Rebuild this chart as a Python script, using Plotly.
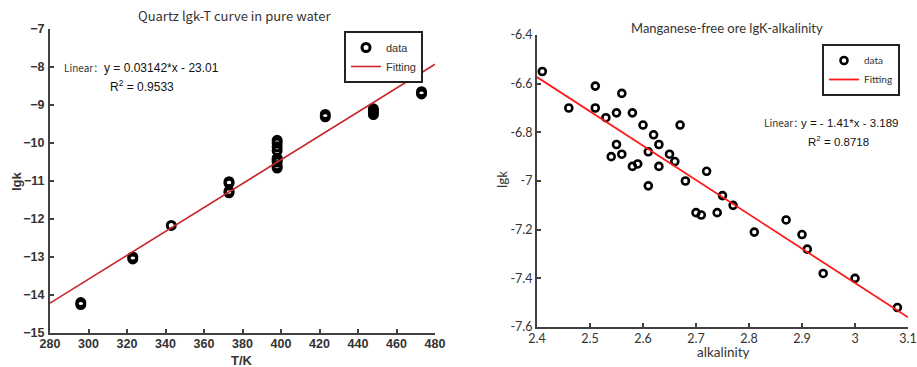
import plotly.graph_objects as go

# ---------------- data ----------------
# Left: Quartz lgk-T in pure water
t_k = [296, 296, 323, 323, 343, 373, 373, 373, 373,
       398, 398, 398, 398, 398, 398, 398, 398, 398,
       423, 423, 448, 448, 448, 448, 473, 473]
lgk_t = [-14.20, -14.25, -13.00, -13.05, -12.17, -11.02, -11.06, -11.27, -11.31,
         -9.93, -10.00, -10.10, -10.20, -10.40, -10.45, -10.50, -10.60, -10.66,
         -9.25, -9.31, -9.10, -9.15, -9.20, -9.25, -8.65, -8.71]
fit_left_slope = 0.03142
fit_left_intercept = -23.01
fit_left_x = [280, 480]

# Right: Manganese-free ore lgK-alkalinity
alk = [2.41, 2.46, 2.51, 2.51, 2.53, 2.55, 2.56, 2.58, 2.60, 2.62, 2.63, 2.55,
       2.54, 2.56, 2.61, 2.58, 2.59, 2.63, 2.65, 2.66, 2.67, 2.72, 2.68, 2.61,
       2.70, 2.71, 2.74, 2.75, 2.77, 2.81, 2.87, 2.90, 2.91, 2.94, 3.00, 3.08]
lgk_a = [-6.55, -6.70, -6.61, -6.70, -6.74, -6.72, -6.64, -6.72, -6.77, -6.81, -6.85, -6.85,
         -6.90, -6.89, -6.88, -6.94, -6.93, -6.94, -6.89, -6.92, -6.77, -6.96, -7.00, -7.02,
         -7.13, -7.14, -7.13, -7.06, -7.10, -7.21, -7.16, -7.22, -7.28, -7.38, -7.40, -7.52]
fit_right_slope = -1.41
fit_right_intercept = -3.189
fit_right_x = [2.4, 3.1]

left_xticks = [280, 300, 320, 340, 360, 380, 400, 420, 440, 460, 480]
left_yticks = [-15, -14, -13, -12, -11, -10, -9, -8, -7]
right_xticks = [2.4, 2.5, 2.6, 2.7, 2.8, 2.9, 3.0, 3.1]
right_xticklabels = ["2.4", "2.5", "2.6", "2.7", "2.8", "2.9", "3", "3.1"]
right_yticks = [-7.6, -7.4, -7.2, -7.0, -6.8, -6.6, -6.4]
right_yticklabels = ["-7.6", "-7.4", "-7.2", "-7", "-6.8", "-6.6", "-6.4"]

W, H = 917, 367
AX = "#404040"
FONT_L = "Liberation Sans"
FONT_R = "Lato"

def px_x(p):
    return p / W

def px_y(p):
    return 1 - p / H

fig = go.Figure()

fig.add_trace(go.Scatter(
    x=t_k, y=lgk_t, mode="markers", name="data",
    marker=dict(symbol="circle-open", size=8, color="black", line=dict(width=3, color="black")),
    xaxis="x", yaxis="y", legend="legend"))
fig.add_trace(go.Scatter(
    x=fit_left_x, y=[fit_left_slope * v + fit_left_intercept for v in fit_left_x],
    mode="lines", name="Fitting", line=dict(color="#c8282b", width=1.6),
    xaxis="x", yaxis="y", legend="legend"))

fig.add_trace(go.Scatter(
    x=alk, y=lgk_a, mode="markers", name="data",
    marker=dict(symbol="circle-open", size=7, color="black", line=dict(width=2.6, color="black")),
    xaxis="x2", yaxis="y2", legend="legend2"))
fig.add_trace(go.Scatter(
    x=fit_right_x, y=[fit_right_slope * v + fit_right_intercept for v in fit_right_x],
    mode="lines", name="Fitting", line=dict(color="#ff1a1a", width=1.8),
    xaxis="x2", yaxis="y2", legend="legend2"))

common_axis = dict(showline=True, linecolor=AX, linewidth=2, mirror=False,
                   ticks="inside", ticklen=4, tickcolor=AX, tickwidth=1.5,
                   showgrid=False, zeroline=False, automargin=False)

fig.update_layout(
    width=W, height=H, autosize=False,
    margin=dict(l=0, r=0, t=0, b=0),
    paper_bgcolor="white", plot_bgcolor="white",
    xaxis=dict(domain=[px_x(50), px_x(435)], range=[280, 480], anchor="y",
               tickvals=left_xticks, ticklabelstandoff=-2,
               tickfont=dict(family=FONT_L, size=12.5, color="#333333", weight="bold"),
               **common_axis),
    yaxis=dict(domain=[px_y(333), px_y(29)], range=[-15, -7], anchor="x",
               tickvals=left_yticks, ticklabelstandoff=1,
               tickfont=dict(family=FONT_L, size=12.5, color="#333333", weight="bold"),
               **common_axis),
    xaxis2=dict(domain=[px_x(537), px_x(908)], range=[2.4, 3.1], anchor="y2",
                tickvals=right_xticks, ticktext=right_xticklabels, ticklabelstandoff=-1,
                tickfont=dict(family=FONT_R, size=12.5, color="#333333"),
                **common_axis),
    yaxis2=dict(domain=[px_y(327), px_y(35)], range=[-7.6, -6.4], anchor="x2",
                tickvals=right_yticks, ticktext=right_yticklabels,
                tickfont=dict(family=FONT_R, size=12.5, color="#333333"),
                **common_axis),
    legend=dict(x=px_x(423), y=px_y(31), xanchor="right", yanchor="top",
                bgcolor="white", bordercolor="#222222", borderwidth=2,
                font=dict(family=FONT_L, size=11, color="#333333"),
                itemwidth=30, tracegroupgap=0),
    legend2=dict(x=px_x(900), y=px_y(44), xanchor="right", yanchor="top",
                 bgcolor="white", bordercolor="#222222", borderwidth=2,
                 font=dict(family=FONT_R, size=10, color="#333333"),
                 itemwidth=30, tracegroupgap=0),
    showlegend=True,
)

ann = []
def A(text, x, y, size, family, color="#222222", xanchor="center", bold=False, angle=0):
    ann.append(dict(text=("<b>%s</b>" % text) if bold else text, x=px_x(x), y=px_y(y),
                    xref="paper", yref="paper", showarrow=False, xanchor=xanchor, yanchor="middle",
                    textangle=angle, font=dict(family=family, size=size, color=color)))

# titles
A("Quartz lgk-T curve in pure water", 235, 15, 13, "Noto Sans CJK SC", color="#333333")
A("Manganese-free ore lgK-alkalinity", 727, 28, 13, FONT_R, color="#333333")
# axis titles
A("T/K", 242, 360, 13, FONT_L, color="#333333", bold=True)
A("lgk", 16, 181, 13, FONT_L, color="#333333", bold=True, angle=-90)
A("alkalinity", 723, 352, 13.5, FONT_R, color="#333333")
A("lgk", 502, 180, 13.5, FONT_R, color="#333333", angle=-90)
# fit equations
A("Linear：", 62, 68, 10, "Noto Sans CJK SC", color="#333333", xanchor="left")
A("y = 0.03142*x - 23.01", 102, 68, 12, FONT_L, color="#111111", xanchor="left")
A("R<sup>2</sup> = 0.9533", 108, 86, 12, FONT_L, color="#111111", xanchor="left")
A("Linear：", 762, 123, 10, "Noto Sans CJK SC", color="#333333", xanchor="left")
A("y = - 1.41*x - 3.189", 799, 123, 11.5, FONT_L, color="#111111", xanchor="left")
A("R<sup>2</sup> = 0.8718", 806, 141, 11.5, FONT_L, color="#111111", xanchor="left")
fig.update_layout(annotations=ann)

fig.write_html("out.html", config={"displayModeBar": False},
               post_script="document.body.style.margin='0px';")
